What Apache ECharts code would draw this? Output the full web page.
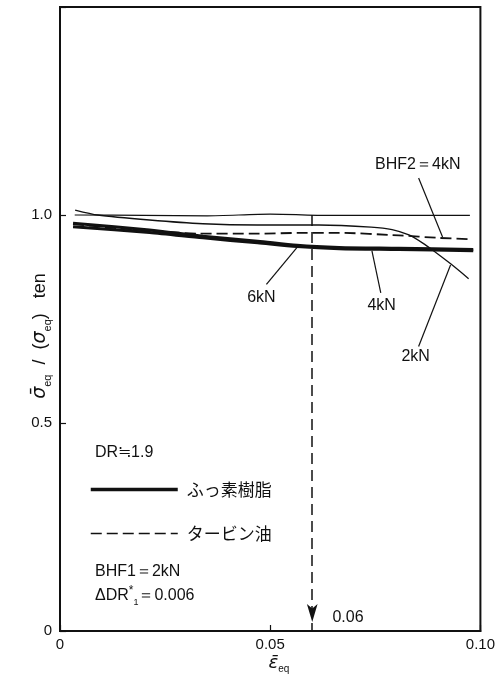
<!DOCTYPE html>
<html>
<head>
<meta charset="utf-8">
<script src="https://cdn.jsdelivr.net/npm/echarts@6/dist/echarts.min.js"></script>
<style>
  html, body { margin: 0; padding: 0; background: #fff; }
  #chart { width: 498px; height: 677px; }
</style>
</head>
<body>
<div id="chart"></div>
<script>
// Axis ticks and their printed labels
const xTicks = [0, 0.05, 0.10];
const xTickLabels = ['0', '0.05', '0.10'];
const yTicks = [0, 0.5, 1.0];
const yTickLabels = ['0', '0.5', '1.0'];

// Normalised equivalent stress vs. equivalent strain, [strain, stress ratio]
const reference = [[0.0035, 1.000], [0.02, 0.999], [0.035, 0.998], [0.05, 1.002], [0.065, 0.999], [0.08, 0.999], [0.0975, 0.999]];
const fluoro2kN = [[0.0036, 1.012], [0.009, 1.000], [0.0213, 0.988], [0.034, 0.979], [0.047, 0.976], [0.0616, 0.976], [0.0740, 0.971], [0.0790, 0.965], [0.0830, 0.952], [0.0862, 0.933], [0.0890, 0.913], [0.0930, 0.882], [0.0972, 0.847]];
const fluoro4kN = [[0.0031, 0.972], [0.0213, 0.958], [0.034, 0.945], [0.047, 0.933], [0.0564, 0.924], [0.0664, 0.919], [0.0806, 0.917], [0.0983, 0.914]];
const fluoro6kN = [[0.0031, 0.980], [0.0213, 0.964], [0.034, 0.949], [0.047, 0.937], [0.0564, 0.927], [0.0664, 0.922], [0.0806, 0.920], [0.0983, 0.917]];
const turbine4kN = [[0.0031, 0.978], [0.0142, 0.968], [0.026, 0.959], [0.0332, 0.955], [0.047, 0.955], [0.057, 0.957], [0.0664, 0.957], [0.0806, 0.951], [0.090, 0.945], [0.0972, 0.942]];

// Strain marked with the arrow
const markStrain = 0.06;
const markStress = 1.0;

const FONT = "'Liberation Sans', Arial, sans-serif";
const JP = "'Noto Sans CJK JP', 'Noto Sans', sans-serif";
const INK = '#111';

const chart = echarts.init(document.getElementById('chart'), null, { renderer: 'canvas' });

const lineBase = {
  type: 'line',
  symbol: 'none',
  showSymbol: false,
  smooth: 0.25,
  silent: true,
  animation: false,
  color: INK,
  itemStyle: { color: INK }
};

const leaderStyle = { color: INK, width: 1.2, type: 'solid' };

chart.setOption({
  backgroundColor: '#fff',
  animation: false,
  grid: {
    left: 60, right: 16, top: 7, bottom: 46,
    show: true, borderColor: INK, borderWidth: 2, backgroundColor: 'transparent'
  },
  xAxis: {
    type: 'value',
    min: xTicks[0], max: xTicks[xTicks.length - 1], interval: xTicks[1] - xTicks[0],
    axisLine: { show: true, onZero: false, lineStyle: { color: INK, width: 2 } },
    axisTick: { show: true, inside: true, length: 6, lineStyle: { color: INK, width: 1.2 } },
    splitLine: { show: false },
    axisLabel: {
      color: INK, fontSize: 15, fontFamily: FONT, margin: 6,
      formatter: v => { const i = xTicks.findIndex(t => Math.abs(t - v) < 1e-9); return i >= 0 ? xTickLabels[i] : ''; }
    }
  },
  yAxis: {
    type: 'value',
    min: 0, max: 1.5, interval: 0.5,
    axisLine: { show: true, onZero: false, lineStyle: { color: INK, width: 2 } },
    axisTick: { show: true, inside: true, length: 6, lineStyle: { color: INK, width: 1.2 } },
    splitLine: { show: false },
    axisLabel: {
      color: INK, fontSize: 15, fontFamily: FONT, margin: 8,
      formatter: v => { const i = yTicks.findIndex(t => Math.abs(t - v) < 1e-9); return i >= 0 ? yTickLabels[i] : ''; }
    }
  },
  legend: {
    data: [
      { name: 'ふっ素樹脂', lineStyle: { width: 3.5, color: INK } },
      { name: 'タービン油', lineStyle: { width: 1.6, color: INK } }
    ],
    orient: 'vertical',
    left: 84, top: 476,
    itemWidth: 87, itemHeight: 16, itemGap: 27,
    selectedMode: false,
    itemStyle: { opacity: 0 },
    textStyle: { color: INK, fontSize: 17, fontFamily: JP, padding: [0, 0, 0, 4] }
  },
  series: [
    Object.assign({}, lineBase, {
      name: 'reference',
      data: reference,
      lineStyle: { color: INK, width: 1.2 },
      markLine: {
        silent: true, symbol: ['none', 'none'], animation: false,
        label: { show: false },
        lineStyle: leaderStyle,
        data: [
          [{ coord: [0.0853, 1.089] }, { coord: [0.0910, 0.947] }],
          [{ coord: [0.0491, 0.833] }, { coord: [0.0564, 0.922] }],
          [{ coord: [0.0763, 0.813] }, { coord: [0.0742, 0.914] }],
          [{ coord: [0.0853, 0.684] }, { coord: [0.0929, 0.880] }]
        ]
      },
      markPoint: {
        silent: true, animation: false,
        symbol: 'circle', symbolSize: 1,
        itemStyle: { color: 'rgba(0,0,0,0)' },
        label: { show: true, position: 'inside', color: INK, fontSize: 16, fontFamily: FONT, formatter: '{b}' },
        data: [
          { name: 'BHF2＝4kN', coord: [0.0851, 1.120] },
          { name: '6kN', coord: [0.0479, 0.801] },
          { name: '4kN', coord: [0.0765, 0.782] },
          { name: '2kN', coord: [0.0846, 0.660] },
          { name: '0.06', coord: [0.0685, 0.033] }
        ]
      }
    }),
    Object.assign({}, lineBase, {
      name: 'ふっ素樹脂 2kN',
      data: fluoro2kN,
      lineStyle: { color: INK, width: 1.3 }
    }),
    Object.assign({}, lineBase, {
      name: 'タービン油',
      data: turbine4kN,
      lineStyle: { color: INK, width: 1.8, type: [11, 5] },
      markLine: {
        silent: true, animation: false,
        label: { show: false },
        data: [
          [
            { coord: [markStrain, markStress], symbol: 'none' },
            { coord: [markStrain, 0], symbol: 'arrow', symbolSize: [8, 18], symbolOffset: [0, 9] }
          ]
        ],
        lineStyle: { color: INK, width: 1.5, type: [11, 6] }
      }
    }),
    Object.assign({}, lineBase, {
      name: 'ふっ素樹脂 4kN',
      data: fluoro4kN,
      lineStyle: { color: INK, width: 3 }
    }),
    Object.assign({}, lineBase, {
      name: 'ふっ素樹脂',
      data: fluoro6kN,
      lineStyle: { color: INK, width: 3 }
    })
  ],
  graphic: [
    {
      type: 'text', x: 40, y: 336, rotation: Math.PI / 2, silent: true,
      style: {
        text: '{g|σ̄}{s|eq}{n|  /  (}{g|σ}{s|eq}{n|)   ten}',
        align: 'center', verticalAlign: 'middle', fill: INK,
        rich: {
          g: { fontSize: 19, fontStyle: 'italic', fontFamily: "'DejaVu Sans', sans-serif", lineHeight: 26, fill: INK },
          s: { fontSize: 11, fontFamily: FONT, verticalAlign: 'bottom', fill: INK },
          n: { fontSize: 18, fontFamily: FONT, lineHeight: 26, fill: INK }
        }
      }
    },
    {
      type: 'text', x: 279, y: 663, silent: true,
      style: {
        text: '{g|ε̄}{s|eq}',
        align: 'center', verticalAlign: 'middle', fill: INK,
        rich: {
          g: { fontSize: 18, fontStyle: 'italic', fontFamily: "'DejaVu Sans', sans-serif", lineHeight: 22, fill: INK },
          s: { fontSize: 10, fontFamily: FONT, verticalAlign: 'bottom', fill: INK }
        }
      }
    },
    {
      type: 'text', x: 95, y: 453, silent: true,
      style: { text: 'DR≒1.9', fontSize: 16, fontFamily: FONT, fill: INK, verticalAlign: 'middle' }
    },
    {
      type: 'text', x: 95, y: 572, silent: true,
      style: { text: 'BHF1＝2kN', fontSize: 16, fontFamily: FONT, fill: INK, verticalAlign: 'middle' }
    },
    {
      type: 'text', x: 95, y: 596, silent: true,
      style: {
        text: '{n|ΔDR}{p|*}{b|1}{n|＝0.006}',
        verticalAlign: 'middle', fill: INK,
        rich: {
          n: { fontSize: 16, fontFamily: FONT, lineHeight: 22, fill: INK },
          p: { fontSize: 12, fontFamily: FONT, verticalAlign: 'top', fill: INK },
          b: { fontSize: 9, fontFamily: FONT, verticalAlign: 'bottom', fill: INK }
        }
      }
    }
  ]
});
</script>
</body>
</html>
